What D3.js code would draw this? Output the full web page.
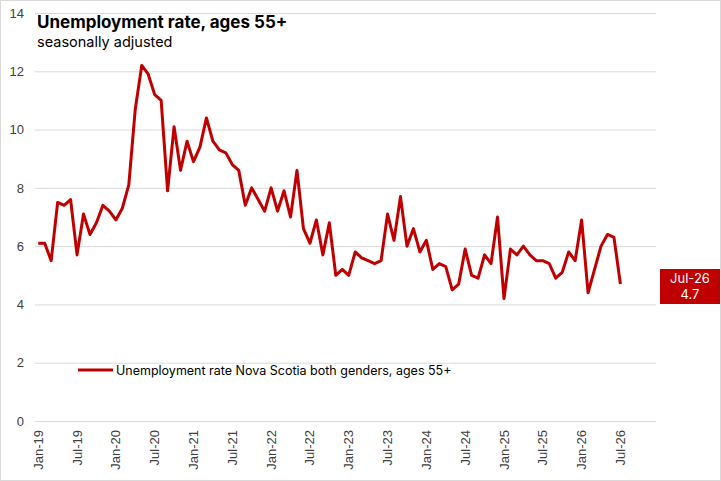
<!DOCTYPE html>
<html>
<head>
<meta charset="utf-8">
<script src="https://cdn.jsdelivr.net/npm/d3@7"></script>
<style>
  body { margin: 0; background: #fff; }
  svg { display: block; }
</style>
</head>
<body>
<div id="chart"></div>
<script>
// monthly values, Jan-19 .. Jul-26
const rates2019 = [6.1, 6.1, 5.5, 7.5, 7.4, 7.6, 5.7, 7.1, 6.4, 6.8, 7.4, 7.2];
const rates2020 = [6.9, 7.3, 8.1, 10.7, 12.2, 11.9, 11.2, 11.0, 7.9, 10.1, 8.6, 9.6];
const rates2021 = [8.9, 9.4, 10.4, 9.6, 9.3, 9.2, 8.8, 8.6, 7.4, 8.0, 7.6, 7.2];
const rates2022 = [8.0, 7.2, 7.9, 7.0, 8.6, 6.6, 6.1, 6.9, 5.7, 6.8, 5.0, 5.2];
const rates2023 = [5.0, 5.8, 5.6, 5.5, 5.4, 5.5, 7.1, 6.2, 7.7, 6.0, 6.6, 5.8];
const rates2024 = [6.2, 5.2, 5.4, 5.3, 4.5, 4.7, 5.9, 5.0, 4.9, 5.7, 5.4, 7.0];
const rates2025 = [4.2, 5.9, 5.7, 6.0, 5.7, 5.5, 5.5, 5.4, 4.9, 5.1, 5.8, 5.5];
const rates2026 = [6.9, 4.4, 5.2, 6.0, 6.4, 6.3, 4.7];

const monthNames = ["Jan", "Feb", "Mar", "Apr", "May", "Jun", "Jul", "Aug", "Sep", "Oct", "Nov", "Dec"];
const years = ["19", "20", "21", "22", "23", "24", "25", "26"];
const yTicks = [0, 2, 4, 6, 8, 10, 12, 14];

const seriesName = "Unemployment rate Nova Scotia both genders, ages 55+";
const red = "#C00000";

const width = 721, height = 481;

// category axis runs Jan-19 .. Dec-26
const categories = [];
years.forEach(y => monthNames.forEach(m => categories.push(`${m}-${y}`)));

const values = [].concat(rates2019, rates2020, rates2021, rates2022,
  rates2023, rates2024, rates2025, rates2026);
const dataset = values.map((v, i) => ({ month: categories[i], value: v }));

const svg = d3.select("#chart").append("svg")
  .attr("width", width)
  .attr("height", height);

svg.append("rect")
  .attr("x", 0.5).attr("y", 0.5)
  .attr("width", width - 1).attr("height", height - 1)
  .attr("fill", "#fff")
  .attr("stroke", "#d9d9d9");

let xScale = d3.scaleBand()
  .domain(categories)
  .range([35, 656]);

let yScale = d3.scaleLinear()
  .domain([0, 14])
  .range([421, 13]);

// gridlines + y labels
let yAxis = d3.axisLeft(yScale)
  .tickValues(yTicks)
  .tickSize(-(656 - 35))
  .tickPadding(11);

let gy = svg.append("g")
  .attr("transform", "translate(35,0)")
  .call(yAxis);
gy.select(".domain").remove();
gy.selectAll(".tick line").attr("stroke", "#d9d9d9").attr("stroke-width", 1);
gy.selectAll(".tick text")
  .attr("font-family", "Liberation Sans, Arial, sans-serif")
  .attr("font-size", 13)
  .attr("fill", "#404040");

// x labels every 6 months
let xAxis = d3.axisBottom(xScale)
  .tickValues(categories.filter((c, i) => i % 6 === 0))
  .tickSize(0)
  .tickPadding(0);

let gx = svg.append("g")
  .attr("transform", "translate(0,421)")
  .call(xAxis);
gx.select(".domain").remove();
gx.selectAll(".tick text")
  .attr("font-family", "Liberation Sans, Arial, sans-serif")
  .attr("font-size", 13)
  .attr("fill", "#404040")
  .attr("transform", "rotate(-90)")
  .attr("text-anchor", "end")
  .attr("x", -9)
  .attr("y", 0)
  .attr("dy", "0.35em");

// series line
let line = d3.line()
  .x(d => xScale(d.month) + xScale.bandwidth() / 2)
  .y(d => yScale(d.value));

svg.append("path")
  .datum(dataset)
  .attr("fill", "none")
  .attr("stroke", red)
  .attr("stroke-width", 3)
  .attr("stroke-linejoin", "round")
  .attr("d", line);

// title
svg.append("text")
  .attr("x", 37).attr("y", 28)
  .attr("font-family", "Inter, sans-serif")
  .attr("font-weight", "bold")
  .attr("font-size", 17)
  .attr("fill", "#000")
  .text("Unemployment rate, ages 55+");

svg.append("text")
  .attr("x", 37).attr("y", 47)
  .attr("font-family", "Inter, sans-serif")
  .attr("font-size", 14.5)
  .attr("fill", "#000")
  .text("seasonally adjusted");

// legend
svg.append("line")
  .attr("x1", 78).attr("x2", 113)
  .attr("y1", 370).attr("y2", 370)
  .attr("stroke", red)
  .attr("stroke-width", 3);

svg.append("text")
  .attr("x", 116).attr("y", 375)
  .attr("font-family", "Inter, sans-serif")
  .attr("font-size", 12.5)
  .attr("fill", "#000")
  .text(seriesName);

// last value label
const last = dataset[dataset.length - 1];
svg.append("rect")
  .attr("x", 660).attr("y", 269)
  .attr("width", 60).attr("height", 35)
  .attr("fill", red);

svg.append("text")
  .attr("x", 690).attr("y", 283)
  .attr("text-anchor", "middle")
  .attr("font-family", "Inter, sans-serif")
  .attr("font-size", 13)
  .attr("fill", "#fff")
  .text(last.month);

svg.append("text")
  .attr("x", 690).attr("y", 299)
  .attr("text-anchor", "middle")
  .attr("font-family", "Inter, sans-serif")
  .attr("font-size", 13)
  .attr("fill", "#fff")
  .text(last.value.toFixed(1));
</script>
</body>
</html>
